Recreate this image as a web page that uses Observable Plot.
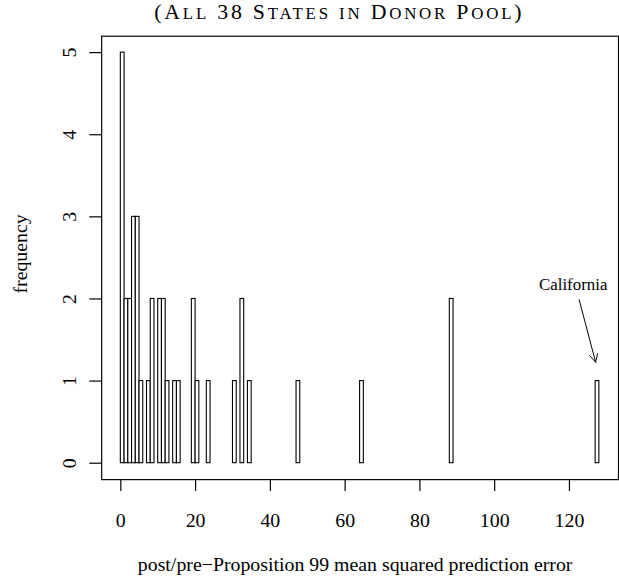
<!DOCTYPE html>
<html>
<head>
<meta charset="utf-8">
<script src="https://cdn.jsdelivr.net/npm/d3@7"></script>
<script src="https://cdn.jsdelivr.net/npm/@observablehq/plot@0.6"></script>
<style>
  html, body { margin: 0; padding: 0; background: #fff; overflow: hidden; }
  #chart { width: 619px; height: 580px; overflow: hidden; }
</style>
</head>
<body>
<div id="chart"></div>
<script>
// Histogram bins (width 1) with nonzero counts
const binStart = [0, 1, 2, 3, 4, 5, 7, 8, 10, 11, 12, 14, 15, 19, 20, 23, 30, 32, 34, 47, 64, 88, 127];
const binCount = [5, 2, 2, 3, 3, 1, 1, 2, 2, 2, 1, 1, 1, 2, 1, 1, 1, 2, 1, 1, 1, 2, 1];
const binMax = 128;
const xTicks = [0, 20, 40, 60, 80, 100, 120];
const yTicks = [0, 1, 2, 3, 4, 5];
const titleText = "(All 38 States in Donor Pool)";
const xLabel = "post/pre\u2212Proposition 99 mean squared prediction error";
const yLabel = "frequency";
// annotation
const noteText = ["California"];
const noteX = [121.0];
const noteY = [2.17];
const arrowFrom = [122.6, 1.99];
const arrowTo = [127.0, 1.23];

const countMap = new Map(binStart.map((s, i) => [s, binCount[i]]));
const bins = d3.range(0, binMax).map(s => ({x1: s, x2: s + 1, y: countMap.get(s) || 0}));

const font = "'Liberation Serif', 'Times New Roman', serif";

const plot = Plot.plot({
  width: 624,
  height: 580,
  marginLeft: 102,
  marginRight: 1,
  marginTop: 36,
  marginBottom: 97,
  style: {fontFamily: font, fontSize: "20px", background: "#fff", color: "#000"},
  x: {domain: [-5.12, 133.12]},
  y: {domain: [-0.2, 5.2]},
  marks: [
    Plot.frame({stroke: "#000", strokeWidth: 1.2}),
    Plot.axisX({ticks: xTicks, tickSize: 12, tickPadding: 22, label: null, fontSize: 20, stroke: "#000", strokeWidth: 1.2}),
    Plot.axisY({ticks: yTicks, tickFormat: d => String(d), tickSize: 12, tickPadding: 14, tickRotate: -90, label: null, fontSize: 20, stroke: "#000", strokeWidth: 1.2}),
    Plot.rectY(bins, {x1: "x1", x2: "x2", y: "y", fill: "#fff", stroke: "#000", strokeWidth: 1.1, inset: 0}),
    Plot.arrow([{x1: arrowFrom[0], y1: arrowFrom[1], x2: arrowTo[0], y2: arrowTo[1]}], {x1: "x1", y1: "y1", x2: "x2", y2: "y2", stroke: "#000", strokeWidth: 1, headLength: 13, headAngle: 55, bend: 0, insetStart: 0, insetEnd: 0}),
    Plot.text(noteText, {x: noteX, y: noteY, text: d => d, fontSize: 17, fill: "#000"}),
    Plot.text([titleText], {frameAnchor: "top", text: d => d, dy: -24, dx: -21, fontSize: 22, fill: "#000", lineAnchor: "middle"}),
    Plot.text([xLabel], {frameAnchor: "bottom", text: d => d, dy: 86, dx: -5, fontSize: 20, fill: "#000", lineAnchor: "middle"}),
    Plot.text([yLabel], {frameAnchor: "left", textAnchor: "middle", text: d => d, dx: -82, dy: -4, rotate: -90, fontSize: 20, fill: "#000", lineAnchor: "middle"})
  ]
});
document.getElementById("chart").appendChild(plot);

// Render the title in small caps (large capitals, smaller capitals for lowercase letters)
const titleNode = Array.from(plot.querySelectorAll("text")).find(t => t.textContent === titleText);
if (titleNode) {
  titleNode.textContent = "";
  titleNode.setAttribute("letter-spacing", "2.8");
  const parts = titleText.match(/[a-z]+|[^a-z]+/g);
  for (const p of parts) {
    const ts = document.createElementNS("http://www.w3.org/2000/svg", "tspan");
    const small = /[a-z]/.test(p);
    ts.textContent = small ? p.toUpperCase() : p;
    ts.setAttribute("font-size", small ? "17" : "22");
    titleNode.appendChild(ts);
  }
}
</script>
</body>
</html>
